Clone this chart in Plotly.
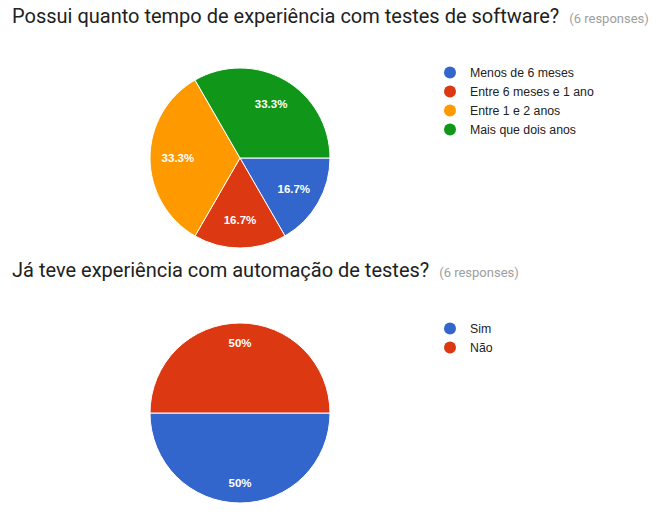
import plotly.graph_objects as go

# Data
q1_title = "Possui quanto tempo de experiência com testes de software?"
q1_labels = ["Menos de 6 meses", "Entre 6 meses e 1 ano", "Entre 1 e 2 anos", "Mais que dois anos"]
q1_values = [1, 1, 2, 2]
q1_colors = ["#3366cc", "#dc3912", "#ff9900", "#109618"]

q2_title = "Já teve experiência com automação de testes?"
q2_labels = ["Sim", "Não"]
q2_values = [3, 3]
q2_colors = ["#3366cc", "#dc3912"]

responses_note = "(6 responses)"

W, H = 658, 524
FONT = "Liberation Sans, Arial, sans-serif"

fig = go.Figure()


def add_pie(labels, values, colors, dom_x, dom_y, label_hole):
    dom = dict(x=dom_x, y=dom_y)
    # filled slices
    fig.add_trace(go.Pie(
        labels=labels, values=values, sort=False, direction="clockwise", rotation=90,
        marker=dict(colors=colors, line=dict(color="white", width=1)),
        textinfo="none", domain=dom, showlegend=False, hoverinfo="label+percent",
    ))
    # transparent ring carrying the percentage labels
    fig.add_trace(go.Pie(
        labels=labels, values=values, sort=False, direction="clockwise", rotation=90,
        hole=label_hole,
        marker=dict(colors=["rgba(0,0,0,0)"] * len(values), line=dict(width=0)),
        textinfo="percent", textposition="inside", insidetextorientation="horizontal",
        textfont=dict(color="white", size=11.5, family=FONT, weight="bold"),
        domain=dom, showlegend=False, hoverinfo="skip",
    ))


add_pie(q1_labels, q1_values, q1_colors,
        [150 / W, 330 / W], [1 - 248 / H, 1 - 68 / H], 0.38)
add_pie(q2_labels, q2_values, q2_colors,
        [150 / W, 330 / W], [1 - 503 / H, 1 - 323 / H], 0.56)

for lab, col in zip(q1_labels, q1_colors):
    fig.add_trace(go.Scatter(x=[None], y=[None], mode="markers", name=lab,
                             marker=dict(color=col, size=12, symbol="circle"),
                             legend="legend", hoverinfo="skip"))
for lab, col in zip(q2_labels, q2_colors):
    fig.add_trace(go.Scatter(x=[None], y=[None], mode="markers", name=lab,
                             marker=dict(color=col, size=12, symbol="circle"),
                             legend="legend2", hoverinfo="skip"))


def title_ann(text, y_px):
    return dict(
        x=10 / W, y=1 - y_px / H, xref="paper", yref="paper", xanchor="left", yanchor="middle",
        showarrow=False, align="left",
        text=(f"<span style='font-size:20px;color:#212121'>{text}</span>"
              f"  <span style='font-size:13px;color:#9e9e9e'>{responses_note}</span>"),
        font=dict(family="Roboto, sans-serif", size=20, color="#212121"),
    )


leg_common = dict(font=dict(family=FONT, size=12.3, color="#222222"), bgcolor="rgba(0,0,0,0)",
                  xanchor="left", yanchor="top", tracegroupgap=0, itemwidth=30)

fig.update_layout(
    width=W, height=H, margin=dict(l=0, r=0, t=0, b=0),
    paper_bgcolor="white", plot_bgcolor="white",
    xaxis=dict(visible=False), yaxis=dict(visible=False),
    annotations=[title_ann(q1_title, 16), title_ann(q2_title, 270)],
    legend=dict(x=(450 - 20) / W, y=1 - 58 / H, **leg_common),
    legend2=dict(x=(450 - 20) / W, y=1 - 314 / H, **leg_common),
)

fig.write_html("out.html")
